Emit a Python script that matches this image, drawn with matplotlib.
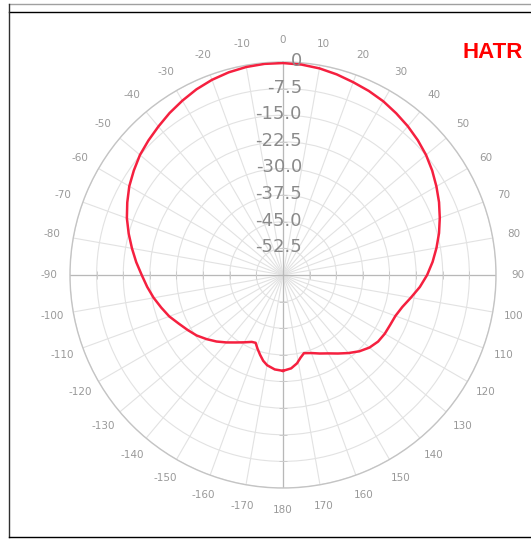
import numpy as np
import matplotlib
matplotlib.use('Agg')
import matplotlib.pyplot as plt
from matplotlib.lines import Line2D
from matplotlib.transforms import offset_copy

plt.rcParams['font.family'] = ['DejaVu Sans']

# pattern: angle in degrees (0 = up, clockwise), level in dB
angles = [-180, -175, -170, -167, -164, -161, -158, -155, -150, -145, -140, -135,
          -130, -125, -120, -115, -110, -105, -100, -95, -90, -85, -80, -75,
          -70, -65, -60, -55, -50, -45, -40, -35, -30, -25, -20, -15, -10, -5,
          0, 5, 10, 15, 20, 25, 30, 35, 40, 45, 50, 55, 60, 65, 70, 75, 80,
          85, 90, 95, 100, 105, 110, 115, 120, 125, 130, 135, 140, 145, 150,
          155, 160, 165, 168, 171, 175, 180]
gain_db = [-33.0, -33.3, -34.2, -35.2, -36.6, -38.0, -39.4, -39.2, -38.1, -36.8, -35.2, -33.5,
           -31.9, -30.3, -29.0, -27.6, -25.9, -24.5, -23.0, -21.6, -20.2, -18.5, -16.8, -15.0,
           -13.2, -11.6, -10.0, -8.7, -7.4, -6.4, -5.4, -4.3, -3.3, -2.3, -1.5, -0.9, -0.5, -0.3,
           -0.3, -0.5, -0.9, -1.5, -2.2, -2.8, -3.5, -4.4, -5.3, -6.3, -7.4, -8.7, -10.1,
           -11.5, -13.0, -14.5, -16.1, -17.7, -19.4, -21.3, -23.4, -25.2, -26.3, -26.7,
           -26.9, -27.3, -28.2, -29.6, -31.3, -33.0, -34.5, -35.6, -36.6, -37.2, -36.2,
           -34.8, -33.6, -33.0]

theta_ticks = list(range(0, 360, 10))
theta_labels = [str(a) if a <= 180 else str(a - 360) for a in theta_ticks]
r_ticks = [-52.5, -45.0, -37.5, -30.0, -22.5, -15.0, -7.5, 0.0]
r_labels = ['-52.5', '-45.0', '-37.5', '-30.0', '-22.5', '-15.0', '-7.5', '0']

fig = plt.figure(figsize=(5.31, 5.40), dpi=100)
ax = fig.add_axes([0.1318, 0.0963, 0.8023, 0.7889], projection='polar')
ax.set_theta_zero_location('N')
ax.set_theta_direction(-1)
ax.set_ylim(-60, 0)

ax.set_thetagrids(theta_ticks, theta_labels)
ax.set_rticks(r_ticks)
ax.set_yticklabels([])
ax.tick_params(axis='x', labelsize=7.5, labelcolor='#999999', pad=5)
ax.grid(True, color='#e2e2e2', lw=0.8)
ax.spines['polar'].set_color('#c4c4c4')
ax.spines['polar'].set_linewidth(1.0)

# main axes and the little tick marks where the rings cross them
for a in [0, 90, 180, 270]:
    ax.axvline(np.deg2rad(a), color='#b8b8b8', lw=0.9)
    mk = '_' if a in (0, 180) else '|'
    ax.plot(np.full(len(r_ticks) - 1, np.deg2rad(a)), r_ticks[:-1], ls='none',
            marker=mk, ms=6, mew=0.7, color='#cccccc')

ax.plot(np.deg2rad(angles), gain_db, color='#f5203f', lw=1.8, zorder=5)

lab_tr = offset_copy(ax.transData, fig=fig, x=19, y=1, units='dots')
for r, lab in zip(r_ticks, r_labels):
    ax.text(0, r, lab, transform=lab_tr, ha='right', va='center',
            fontsize=13, color='#8a8a8a', zorder=6)

fig.text(463 / 531, 1 - 53 / 540, 'HATR', color='#ff0000', fontsize=16,
         fontweight='bold', family='Liberation Sans', va='center', ha='left')

# frame lines around the picture
fig.add_artist(Line2D([9 / 531, 1], [1 - 4 / 540, 1 - 4 / 540], color='#a0a0a0', lw=1))
fig.add_artist(Line2D([9 / 531, 1], [1 - 12 / 540, 1 - 12 / 540], color='black', lw=1))
fig.add_artist(Line2D([9 / 531, 9 / 531], [1 - 4 / 540, 1 - 537 / 540], color='#303030', lw=1))
fig.add_artist(Line2D([9 / 531, 1], [1 - 537 / 540, 1 - 537 / 540], color='black', lw=1))

fig.savefig('out.png', dpi=100)
